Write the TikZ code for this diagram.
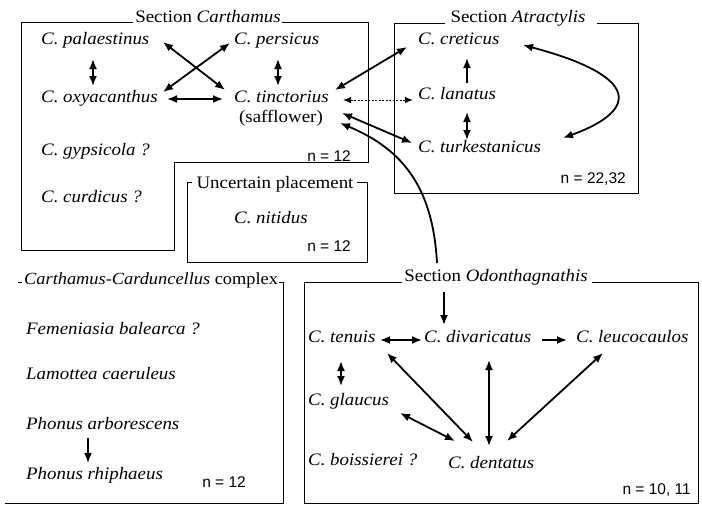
\documentclass[tikz,border=0pt]{standalone}
\usepackage{fontspec}
\setmainfont[FakeStretch=1.08]{Liberation Serif}
\newfontfamily\nsans{Liberation Sans}
\usetikzlibrary{arrows.meta}
\begin{document}
\begin{tikzpicture}[x=1pt,y=-1pt,
  sp/.style={anchor=west,inner sep=1pt,font=\fontsize{17.5}{20}\selectfont\itshape,text height=0.7em,text depth=0.2em},
  ttl/.style={inner sep=0pt,font=\fontsize{17.5}{20}\selectfont},
  nn/.style={anchor=east,inner sep=0pt,font=\nsans\fontsize{15.5}{17}\selectfont},
  box/.style={line width=0.75pt},
  dbl/.style={line width=1.8pt,{Latex[length=10pt,width=8pt]}-{Latex[length=10pt,width=8pt]}},
  sgl/.style={line width=1.8pt,-{Latex[length=10pt,width=8pt]}},
  dot/.style={line width=1pt,dash pattern=on 2pt off 1.5pt,{Latex[length=8pt,width=6.5pt]}-{Latex[length=8pt,width=6.5pt]}},
]
\useasboundingbox (0,0) rectangle (702,507);
% boxes
\draw[box] (133,22) -- (21,22) -- (21,250) -- (174,250) -- (174,162) -- (368,162) -- (368,22) -- (282,22);
\draw[box] (192,182) -- (187,182) -- (187,262) -- (367,262) -- (367,182) -- (357,182);
\draw[box] (445,23) -- (394,23) -- (394,193) -- (638,193) -- (638,23) -- (597,23);
\draw[box] (18,282) -- (22,282);
\draw[box] (279,282) -- (283,282) -- (283,503) -- (5,503);
\draw[box] (402,282) -- (304,282) -- (304,503) -- (698,503) -- (698,282) -- (592,282);
% titles
\node[ttl] (cartT) at (208,17) {Section \textit{Carthamus}};
\node[ttl] (uncT) at (275,184) {Uncertain placement};
\node[ttl] (atrT) at (518,18) {Section \textit{Atractylis}};
\node[ttl,anchor=west,font=\fontsize{17}{20}\selectfont] (cardT) at (24,280) {\textit{Carthamus-Carduncellus} complex};
\node[ttl] (odT) at (496,277) {Section \textit{Odonthagnathis}};
% section Carthamus
\node[sp] (pal) at (40,42) {C. palaestinus};
\node[sp] (oxy) at (40,100) {C. oxyacanthus};
\node[sp] (gyp) at (40,153) {C. gypsicola ?};
\node[sp] (cur) at (40,200) {C. curdicus ?};
\node[sp] (per) at (233,42) {C. persicus};
\node[sp] (tin) at (233,100) {C. tinctorius};
\node[ttl] (saf) at (281,118) {(safflower)};
\node[nn] (nC) at (351,156) {n = 12};
% uncertain
\node[sp] (nit) at (233,221) {C. nitidus};
\node[nn] (nU) at (351,246) {n = 12};
% Atractylis
\node[sp] (cre) at (417,42) {C. creticus};
\node[sp] (lan) at (417,97) {C. lanatus};
\node[sp] (tur) at (417,150) {C. turkestanicus};
\node[nn] (nA) at (626,179) {n = 22,32};
% Carduncellus complex
\node[sp] (fem) at (25,332) {Femeniasia balearca ?};
\node[sp] (lam) at (25,377) {Lamottea caeruleus};
\node[sp] (pha) at (25,427) {Phonus arborescens};
\node[sp] (phr) at (25,477) {Phonus rhiphaeus};
\node[nn] (nCC) at (246,482) {n = 12};
% Odonthagnathis
\node[sp] (ten) at (307,340) {C. tenuis};
\node[sp] (div) at (423,340) {C. divaricatus};
\node[sp] (leu) at (575,340) {C. leucocaulos};
\node[sp] (gla) at (307,403) {C. glaucus};
\node[sp] (boi) at (307,463) {C. boissierei ?};
\node[sp] (den) at (447,466) {C. dentatus};
\node[nn] (nO) at (691,490) {n = 10, 11};
% connectors: Carthamus
\draw[dbl] ([shift={(53,17)}]pal.west) -- ([shift={(53,-14)}]oxy.west);
\draw[dbl] ([shift={(45,17)}]per.west) -- ([shift={(45,-14)}]tin.west);
\draw[dbl] ([shift={(123,0)}]pal.west) -- ([shift={(-8,-10)}]tin.west);
\draw[dbl] ([shift={(123,-8)}]oxy.west) -- ([shift={(-3,1)}]per.west);
\draw[dbl] ([shift={(127,-1)}]oxy.west) -- ([shift={(-10,-1)}]tin.west);
% tinctorius to Atractylis
\draw[dbl] ([shift={(102,-10)}]tin.west) -- ([shift={(-10,5)}]cre.west);
\draw[dot] ([shift={(110,0)}]tin.west) -- ([shift={(-4,3)}]lan.west);
\draw[dbl] ([shift={(109,13)}]tin.west) -- ([shift={(-5,-7)}]tur.west);
\draw[sgl] ([shift={(-59,-14)}]odT.center) .. controls (433,190) and (405,150) .. ([shift={(107,23)}]tin.west);
% Atractylis
\draw[sgl] ([shift={(50,-14)}]lan.west) -- ([shift={(50,16)}]cre.west);
\draw[dbl] ([shift={(50,15)}]lan.west) -- ([shift={(50,-10)}]tur.west);
\draw[dbl] ([shift={(106,3)}]cre.west) .. controls (640,76) and (640,110) .. ([shift={(146,-12)}]tur.west);
% Carduncellus
\draw[sgl] ([shift={(63,11)}]pha.west) -- ([shift={(63,-14)}]phr.west);
% Odonthagnathis
\draw[sgl] ([shift={(-52,15)}]odT.center) -- ([shift={(21,-15)}]div.west);
\draw[dbl] ([shift={(73,0)}]ten.west) -- ([shift={(-1,0)}]div.west);
\draw[sgl] ([shift={(119,0)}]div.west) -- ([shift={(-8,0)}]leu.west);
\draw[dbl] ([shift={(34,21)}]ten.west) -- ([shift={(34,-17)}]gla.west);
\draw[dbl] ([shift={(80,13)}]ten.west) -- ([shift={(26,-24)}]den.west);
\draw[dbl] ([shift={(93,10)}]gla.west) -- ([shift={(8,-25)}]den.west);
\draw[dbl] ([shift={(66,20)}]div.west) -- ([shift={(42,-20)}]den.west);
\draw[dbl] ([shift={(28,13)}]leu.west) -- ([shift={(60,-25)}]den.west);
\end{tikzpicture}
\end{document}
